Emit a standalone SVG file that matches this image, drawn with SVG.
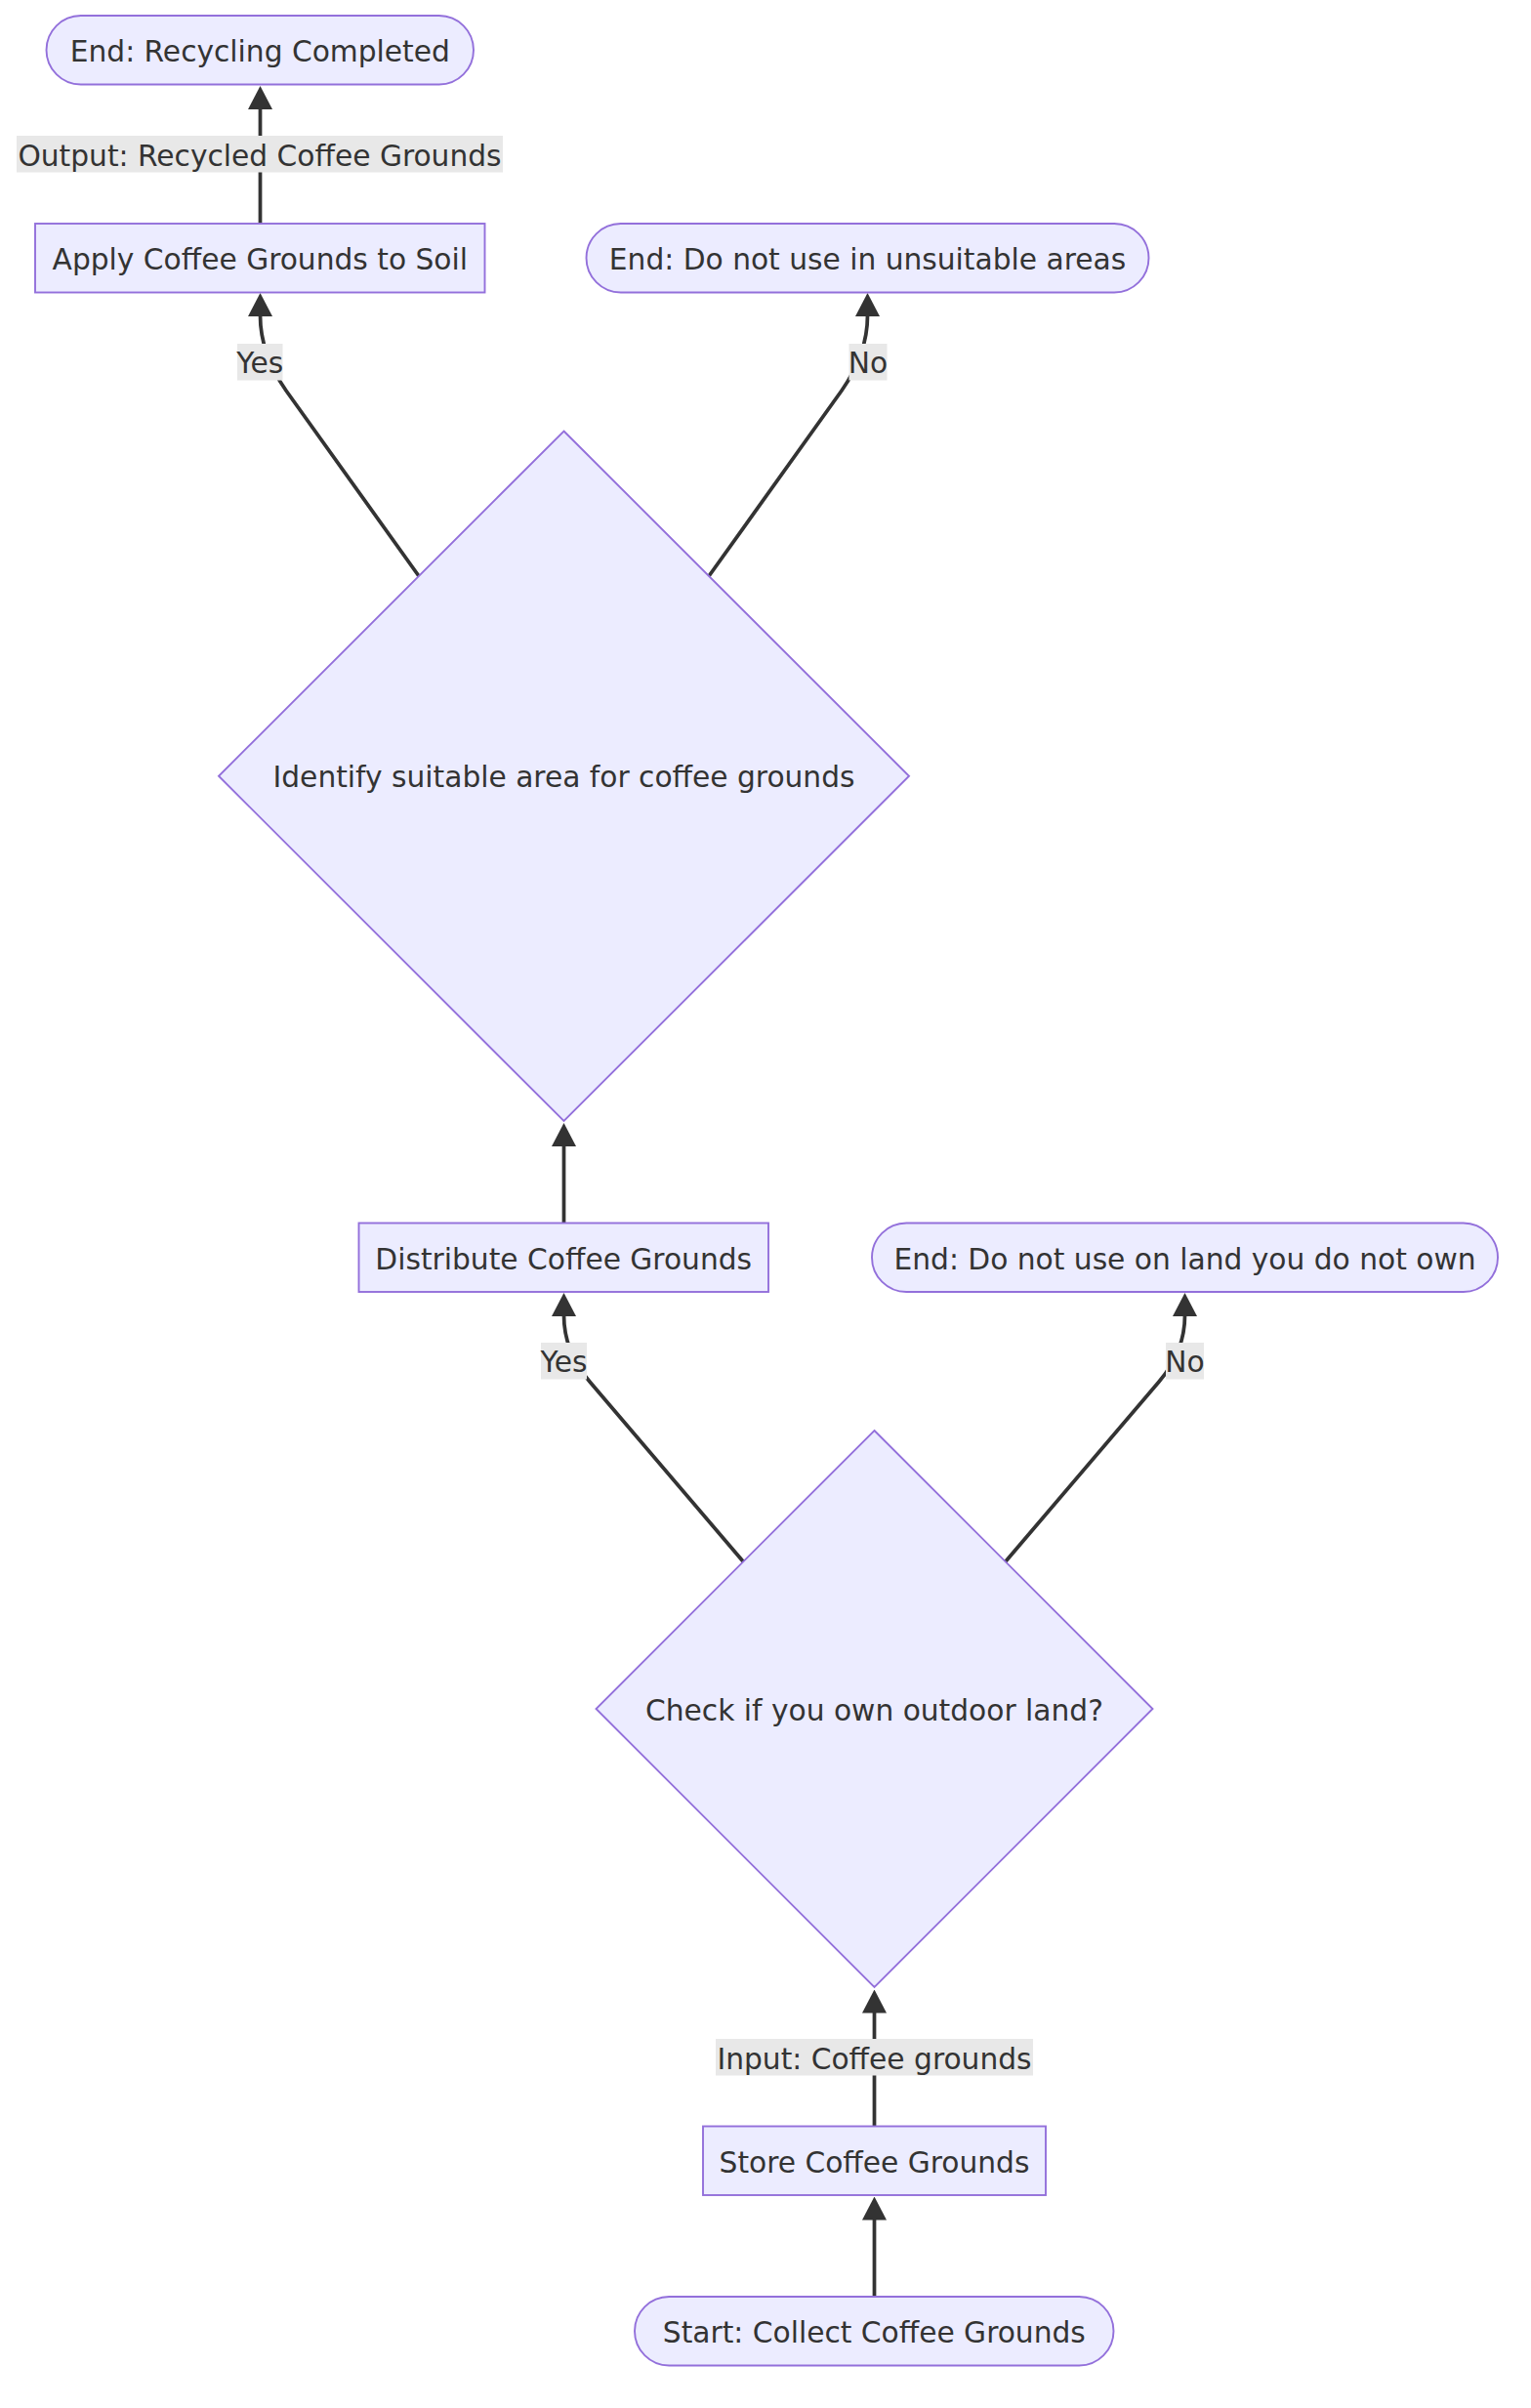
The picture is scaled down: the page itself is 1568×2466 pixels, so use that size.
<svg xmlns="http://www.w3.org/2000/svg" width="1568" height="2466" viewBox="0 0 1568 2466">
<style>
.node rect, .node polygon { fill: #ECECFF; stroke: #9370DB; stroke-width: 1.9; }
.t { font-family: "DejaVu Sans", Verdana, sans-serif; font-size: 29.7px; fill: #333333; text-anchor: middle; }
.edge { fill: none; stroke: #333333; stroke-width: 3.75; marker-end: url(#arrow); }
.lbl { fill: #e8e8e8; }
</style>
<defs>
<marker id="arrow" viewBox="0 0 24 25" refX="1" refY="12.5" markerWidth="24" markerHeight="25" markerUnits="userSpaceOnUse" orient="auto">
<path d="M0,0 L24,12.5 L0,25 z" fill="#333333"/>
</marker>
</defs>
<rect width="1568" height="2466" fill="#ffffff"/>
<g id="connectors">
<path class="edge" d="M895.5,2352 L895.5,2272.5"/>
<path class="edge" d="M895.5,2177.5 L895.5,2060.5"/>
<path class="edge" d="M761,1599 L604,1415 Q577.5,1384 577.5,1347"/>
<path class="edge" d="M1030,1599 L1187,1415 Q1213.5,1384 1213.5,1347"/>
<path class="edge" d="M577.5,1252 L577.5,1173"/>
<path class="edge" d="M429,590 L293,400 Q266.5,362 266.5,323"/>
<path class="edge" d="M726,590 L862,400 Q888.5,362 888.5,323"/>
<path class="edge" d="M266.5,229 L266.5,111"/>
<rect class="lbl" x="17" y="139" width="498" height="37.5"/>
<text class="t" x="266" y="169.5">Output: Recycled Coffee Grounds</text>
<rect class="lbl" x="243" y="352" width="46.5" height="37.5"/>
<text class="t" x="266.2" y="382">Yes</text>
<rect class="lbl" x="869.5" y="352" width="39" height="37.5"/>
<text class="t" x="889" y="382">No</text>
<rect class="lbl" x="554" y="1375" width="47" height="37.5"/>
<text class="t" x="577.5" y="1405">Yes</text>
<rect class="lbl" x="1194" y="1375" width="39" height="37.5"/>
<text class="t" x="1213.5" y="1405">No</text>
<rect class="lbl" x="733" y="2088" width="325" height="37.5"/>
<text class="t" x="895.5" y="2118.5">Input: Coffee grounds</text>
</g>
<g id="end_recycling" class="node">
<rect x="47.5" y="16" width="437.5" height="70.5" rx="35.25" ry="35.25"/>
<text class="t" x="266.3" y="63">End: Recycling Completed</text>
</g>
<g id="apply_soil" class="node">
<rect x="36" y="229" width="460.5" height="70.5"/>
<text class="t" x="266.3" y="275.7">Apply Coffee Grounds to Soil</text>
</g>
<g id="end_unsuitable" class="node">
<rect x="600.5" y="229" width="576" height="70.5" rx="35.25" ry="35.25"/>
<text class="t" x="888.5" y="275.7">End: Do not use in unsuitable areas</text>
</g>
<g id="identify_area" class="node">
<polygon points="577.5,441.5 931,794.75 577.5,1148 224,794.75"/>
<text class="t" x="577.5" y="806.3">Identify suitable area for coffee grounds</text>
</g>
<g id="distribute" class="node">
<rect x="367.5" y="1252.5" width="419.5" height="70.5"/>
<text class="t" x="577.2" y="1299.5">Distribute Coffee Grounds</text>
</g>
<g id="end_not_own" class="node">
<rect x="893" y="1252.5" width="641" height="70.5" rx="35.25" ry="35.25"/>
<text class="t" x="1213.5" y="1299.5">End: Do not use on land you do not own</text>
</g>
<g id="check_land" class="node">
<polygon points="895.5,1465 1180.5,1750 895.5,2035 610.5,1750"/>
<text class="t" x="895.5" y="1761.5">Check if you own outdoor land?</text>
</g>
<g id="store" class="node">
<rect x="720" y="2177.5" width="351" height="70.5"/>
<text class="t" x="895.5" y="2224.5">Store Coffee Grounds</text>
</g>
<g id="start" class="node">
<rect x="650" y="2352" width="490.5" height="70.5" rx="35.25" ry="35.25"/>
<text class="t" x="895.3" y="2398.8">Start: Collect Coffee Grounds</text>
</g>
</svg>
